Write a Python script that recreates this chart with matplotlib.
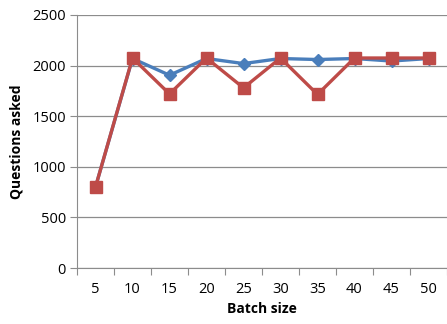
import matplotlib
matplotlib.use('Agg')
import matplotlib.pyplot as plt
import numpy as np

# data
batch_sizes = ['5', '10', '15', '20', '25', '30', '35', '40', '45', '50']
series_blue = [800, 2070, 1905, 2070, 2020, 2070, 2060, 2070, 2045, 2070]
series_red = [800, 2075, 1720, 2075, 1780, 2075, 1715, 2075, 2075, 2075]

plt.rcParams['font.family'] = ['Open Sans', 'DejaVu Sans']

fig = plt.figure(figsize=(4.47, 3.24), dpi=100)
ax = fig.add_axes([77 / 447, 1 - 268 / 324, 1 - 77 / 447, (268 - 15) / 324])

x = np.arange(len(batch_sizes))
ax.plot(x, series_blue, color='#4A7EBB', linewidth=2.4, marker='D',
        markersize=6.5, zorder=3)
ax.plot(x, series_red, color='#BE4B48', linewidth=2.4, marker='s',
        markersize=9, zorder=4)

ax.set_xlim(-0.5, len(batch_sizes) - 0.5)
ax.set_ylim(0, 2500)
ax.set_yticks(range(0, 2501, 500))
ax.yaxis.grid(True, color='#8C8C8C', linewidth=0.9)
ax.set_axisbelow(True)

# category axis: tick marks between categories, labels at centers
ax.set_xticks(np.arange(-0.5, len(batch_sizes), 1.0))
ax.set_xticklabels([])
ax.set_xticks(x, minor=True)
ax.set_xticklabels(batch_sizes, minor=True)
ax.tick_params(axis='x', which='major', length=5, color='#8C8C8C', direction='out')
ax.tick_params(axis='x', which='minor', length=0, pad=10, labelsize=10.5)
ax.tick_params(axis='y', length=5, color='#8C8C8C', labelsize=10.5, pad=3)

for side in ['top', 'right']:
    ax.spines[side].set_visible(False)
for side in ['left', 'bottom']:
    ax.spines[side].set_color('#8C8C8C')

ax.set_xlabel('Batch size', fontsize=10, fontweight='bold', labelpad=4)
ax.set_ylabel('Questions asked', fontsize=10, fontweight='bold', labelpad=6)

fig.savefig('out.png', dpi=100)
plt.close(fig)
